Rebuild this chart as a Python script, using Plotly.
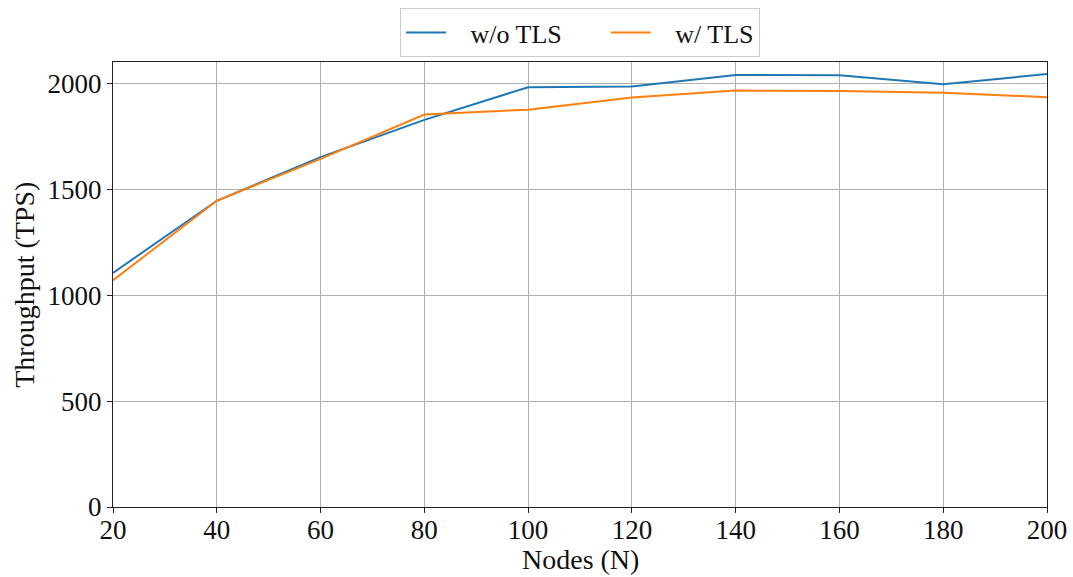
import plotly.graph_objects as go

nodes = [20, 40, 60, 80, 100, 120, 140, 160, 180, 200]
without_tls = [1105, 1445, 1651, 1827, 1981, 1984, 2039, 2037, 1995, 2043]
with_tls = [1070, 1445, 1643, 1852, 1875, 1932, 1965, 1963, 1955, 1934]

x_ticks = [20, 40, 60, 80, 100, 120, 140, 160, 180, 200]
y_ticks = [0, 500, 1000, 1500, 2000]

FONT = "Liberation Serif"
NBSP = "\u00a0"

fig = go.Figure()
fig.add_trace(go.Scatter(x=nodes, y=without_tls, mode="lines",
                         name=NBSP * 3 + "w/o TLS" + NBSP * 6,
                         line=dict(color="#1f77b4", width=2)))
fig.add_trace(go.Scatter(x=nodes, y=with_tls, mode="lines",
                         name=NBSP * 3 + "w/ TLS",
                         line=dict(color="#ff7f0e", width=2)))

axis_common = dict(
    showline=True, linecolor="#222222", linewidth=1, mirror=True,
    showgrid=True, gridcolor="#b0b0b0", gridwidth=1,
    ticks="outside", ticklen=5, tickcolor="#222222", tickwidth=1,
    tickfont=dict(family=FONT, size=27, color="#111111"),
    zeroline=False, automargin=False,
)

fig.update_layout(
    width=1073, height=577,
    margin=dict(l=113, r=26, t=62, b=70),
    plot_bgcolor="white", paper_bgcolor="white",
    font=dict(family=FONT, size=27, color="#111111"),
    xaxis=dict(range=[20, 200], tickvals=x_ticks, ticklabelstandoff=-6, **axis_common),
    yaxis=dict(range=[0, 2100], tickvals=y_ticks, **axis_common),
    legend=dict(orientation="h", x=0.5, xanchor="center",
                yref="container", y=0.986, yanchor="top",
                bordercolor="#cccccc", borderwidth=1, bgcolor="white",
                font=dict(family=FONT, size=26), itemwidth=40),
    showlegend=True,
    annotations=[
        dict(text="Nodes (N)", xref="paper", yref="paper", x=0.5, y=-0.078,
             xanchor="center", yanchor="top", showarrow=False,
             font=dict(family=FONT, size=28, color="#111111")),
        dict(text="Throughput (TPS)", xref="paper", yref="paper", x=-0.095, y=0.5,
             xanchor="center", yanchor="middle", textangle=-90, showarrow=False,
             font=dict(family=FONT, size=28, color="#111111")),
    ],
)

fig.write_html("out.html")
